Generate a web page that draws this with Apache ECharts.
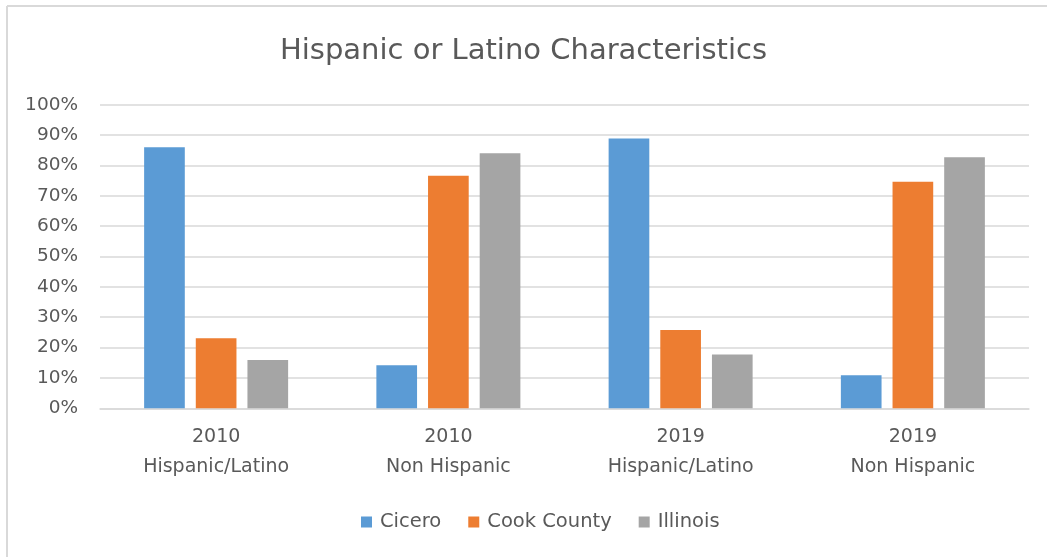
<!DOCTYPE html>
<html>
<head>
<meta charset="utf-8">
<script src="https://cdn.jsdelivr.net/npm/echarts@6/dist/echarts.min.js"></script>
<style>
  html, body { margin: 0; padding: 0; background: #fff; }
  #chart { width: 1047px; height: 557px; }
</style>
</head>
<body>
<div id="chart"></div>
<script>
// Share of population by Hispanic/Latino origin (percent)
const categories = ['2010\nHispanic/Latino', '2010\nNon Hispanic', '2019\nHispanic/Latino', '2019\nNon Hispanic'];
const seriesNames = ['Cicero', 'Cook County', 'Illinois'];
const cicero = [86.0, 14.2, 88.9, 10.9];
const cookCounty = [23.1, 76.6, 25.8, 74.6];
const illinois = [15.9, 84.0, 17.7, 82.7];
const yTicks = [0, 10, 20, 30, 40, 50, 60, 70, 80, 90, 100];

const colors = ['#5B9BD5', '#ED7D31', '#A5A5A5'];
const textColor = '#595959';
const font = 'DejaVu Sans';

const chart = echarts.init(document.getElementById('chart'));
chart.setOption({
  animation: false,
  color: colors,
  title: {
    text: 'Hispanic or Latino Characteristics',
    left: 'center',
    top: 32,
    textStyle: { fontFamily: font, fontSize: 29, fontWeight: 'normal', color: textColor }
  },
  legend: {
    top: 507,
    left: 356,
    itemWidth: 11,
    itemHeight: 11,
    itemGap: 27,
    icon: 'rect',
    textStyle: { fontFamily: font, fontSize: 19.5, color: textColor, padding: [0, 0, 0, 3] },
    data: seriesNames
  },
  grid: { left: 100, right: 18, top: 104.7, bottom: 148.7 },
  xAxis: {
    type: 'category',
    data: categories,
    axisLine: { show: true, lineStyle: { color: '#D9D9D9', width: 1.5 } },
    axisTick: { show: false },
    axisLabel: { fontFamily: font, fontSize: 19, color: textColor, lineHeight: 30, margin: 14 }
  },
  yAxis: {
    type: 'value',
    min: yTicks[0],
    max: yTicks[yTicks.length - 1],
    interval: 10,
    axisLine: { show: false },
    axisTick: { show: false },
    splitLine: { lineStyle: { color: '#D9D9D9', width: 1.5 } },
    axisLabel: { fontFamily: font, fontSize: 18.5, color: textColor, margin: 22, formatter: v => v + '%' }
  },
  series: [
    { name: seriesNames[0], type: 'bar', data: cicero, barGap: '27%', barCategoryGap: '38%' },
    { name: seriesNames[1], type: 'bar', data: cookCounty },
    { name: seriesNames[2], type: 'bar', data: illinois }
  ],
  graphic: [
    { type: 'line', shape: { x1: 7, y1: 6, x2: 1047, y2: 6 }, style: { stroke: '#D9D9D9', lineWidth: 2 } },
    { type: 'line', shape: { x1: 7, y1: 6, x2: 7, y2: 557 }, style: { stroke: '#D9D9D9', lineWidth: 2 } }
  ]
});
</script>
</body>
</html>
